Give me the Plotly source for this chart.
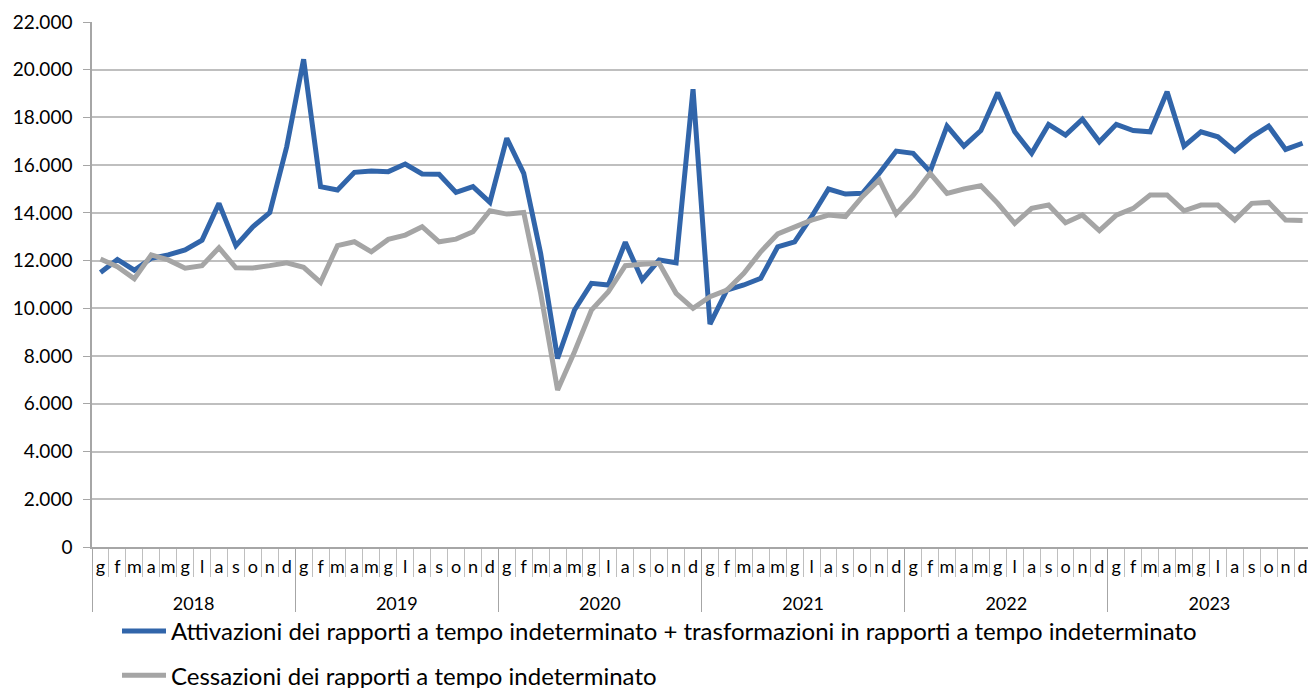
import plotly.graph_objects as go

years = ["2018", "2019", "2020", "2021", "2022", "2023"]
months = ["g", "f", "m", "a", "m", "g", "l", "a", "s", "o", "n", "d"]

attivazioni = [
    11500, 12050, 11600, 12100, 12240, 12450, 12860, 14400, 12630, 13420, 14010, 16770,
    20440, 15100, 14960, 15700, 15760, 15730, 16050, 15630, 15620, 14860, 15100, 14440,
    17130, 15660, 12300, 7900, 9930, 11050, 10980, 12770, 11190, 12030, 11910, 19180,
    9340, 10770, 10980, 11260, 12580, 12790, 13840, 15000, 14790, 14820, 15660, 16590,
    16500, 15730, 17640, 16800, 17450, 19040, 17400, 16500, 17710, 17260, 17930, 16980,
    17710, 17450, 17400, 19080, 16800, 17400, 17190, 16590, 17190, 17640, 16660, 16920,
]
cessazioni = [
    12070, 11750, 11240, 12240, 12030, 11680, 11790, 12540, 11700, 11690, 11790, 11910,
    11720, 11090, 12630, 12790, 12370, 12890, 13070, 13420, 12790, 12900, 13210, 14090,
    13950, 14020, 10630, 6580, 8180, 9930, 10700, 11790, 11850, 11890, 10630, 10000,
    10490, 10770, 11470, 12370, 13120, 13420, 13700, 13910, 13840, 14680, 15380, 13960,
    14730, 15660, 14820, 15000, 15140, 14400, 13560, 14190, 14330, 13590, 13910, 13260,
    13910, 14190, 14750, 14750, 14090, 14330, 14330, 13700, 14400, 14440, 13700, 13680,
]

series_names = [
    "Attivazioni dei rapporti a tempo indeterminato + trasformazioni in rapporti a tempo indeterminato",
    "Cessazioni dei rapporti a tempo indeterminato",
]

n_months = len(months)
n_points = n_months * len(years)
idx = list(range(n_points))                       # month index along the axis
month_text = months * len(years)
month_bounds = [i - 0.5 for i in range(n_points + 1)]
year_centers = [k * n_months + (n_months - 1) / 2 for k in range(len(years))]
year_bounds = [k * n_months - 0.5 for k in range(len(years) + 1)]
x_range = [-0.5, n_points - 0.5]

W, H = 1311, 688  # plot runs slightly past the right edge, as in the reference

fig = go.Figure()
fig.add_trace(go.Scatter(
    x=idx, y=attivazioni, mode="lines", name=series_names[0],
    line=dict(color="#3165AA", width=5), legendgroup="a",
))
fig.add_trace(go.Scatter(
    x=idx, y=cessazioni, mode="lines", name=series_names[1],
    line=dict(color="#A5A5A5", width=5), legendgroup="b",
))
# carrier for the year axis (draws nothing)
fig.add_trace(go.Scatter(
    x=year_centers, y=[None] * len(years), xaxis="x2", yaxis="y",
    mode="lines", showlegend=False, hoverinfo="skip",
))

fig.update_layout(
    width=W, height=H,
    margin=dict(l=92, r=0, t=22, b=141, autoexpand=False),
    paper_bgcolor="white", plot_bgcolor="white",
    separators=",.",
    font=dict(family="Lato, Open Sans, sans-serif", color="#000000", size=17),
    showlegend=True,
    legend=dict(
        orientation="v",
        xref="container", yref="container",
        x=117 / W, xanchor="left",
        y=1 - 609 / H, yanchor="top",
        font=dict(size=24, color="#000000"),
        tracegroupgap=10, traceorder="grouped",
        itemwidth=44,
        bgcolor="rgba(0,0,0,0)",
    ),
    xaxis=dict(
        type="linear", automargin=False,
        range=x_range,
        showline=True, linecolor="#A6A6A6", linewidth=1.5,
        tickmode="array", tickvals=idx, ticktext=month_text,
        ticks="outside", ticklen=1, tickcolor="rgba(0,0,0,0)",
        tickangle=0, ticklabelstandoff=2,
        minor=dict(tickmode="array", tickvals=month_bounds, ticks="outside",
                   ticklen=28, tickcolor="#BFBFBF", tickwidth=1, showgrid=False),
        showgrid=False, zeroline=False,
        tickfont=dict(size=18),
    ),
    xaxis2=dict(
        type="linear", automargin=False,
        overlaying="x", anchor="y", side="bottom",
        range=x_range,
        showline=False,
        tickmode="array", tickvals=year_centers, ticktext=years,
        ticks="outside", ticklen=1, tickcolor="rgba(0,0,0,0)",
        tickangle=0, ticklabelstandoff=39,
        minor=dict(tickmode="array", tickvals=year_bounds, ticks="outside",
                   ticklen=64, tickcolor="#A6A6A6", tickwidth=1, showgrid=False),
        showgrid=False, zeroline=False,
        tickfont=dict(size=18),
    ),
    yaxis=dict(
        automargin=False,
        range=[0, 22000], dtick=2000, tickformat=",d",
        showgrid=True, gridcolor="#BFBFBF", gridwidth=1.5,
        showline=True, linecolor="#A6A6A6", linewidth=1.5,
        ticks="outside", ticklen=7, tickcolor="#A6A6A6",
        ticklabelstandoff=7,
        tickfont=dict(size=19),
        zeroline=False,
    ),
)

fig.write_html(
    "out.html",
    config={"displayModeBar": False},
    post_script="document.body.style.margin='0';document.body.style.overflow='hidden';",
)
